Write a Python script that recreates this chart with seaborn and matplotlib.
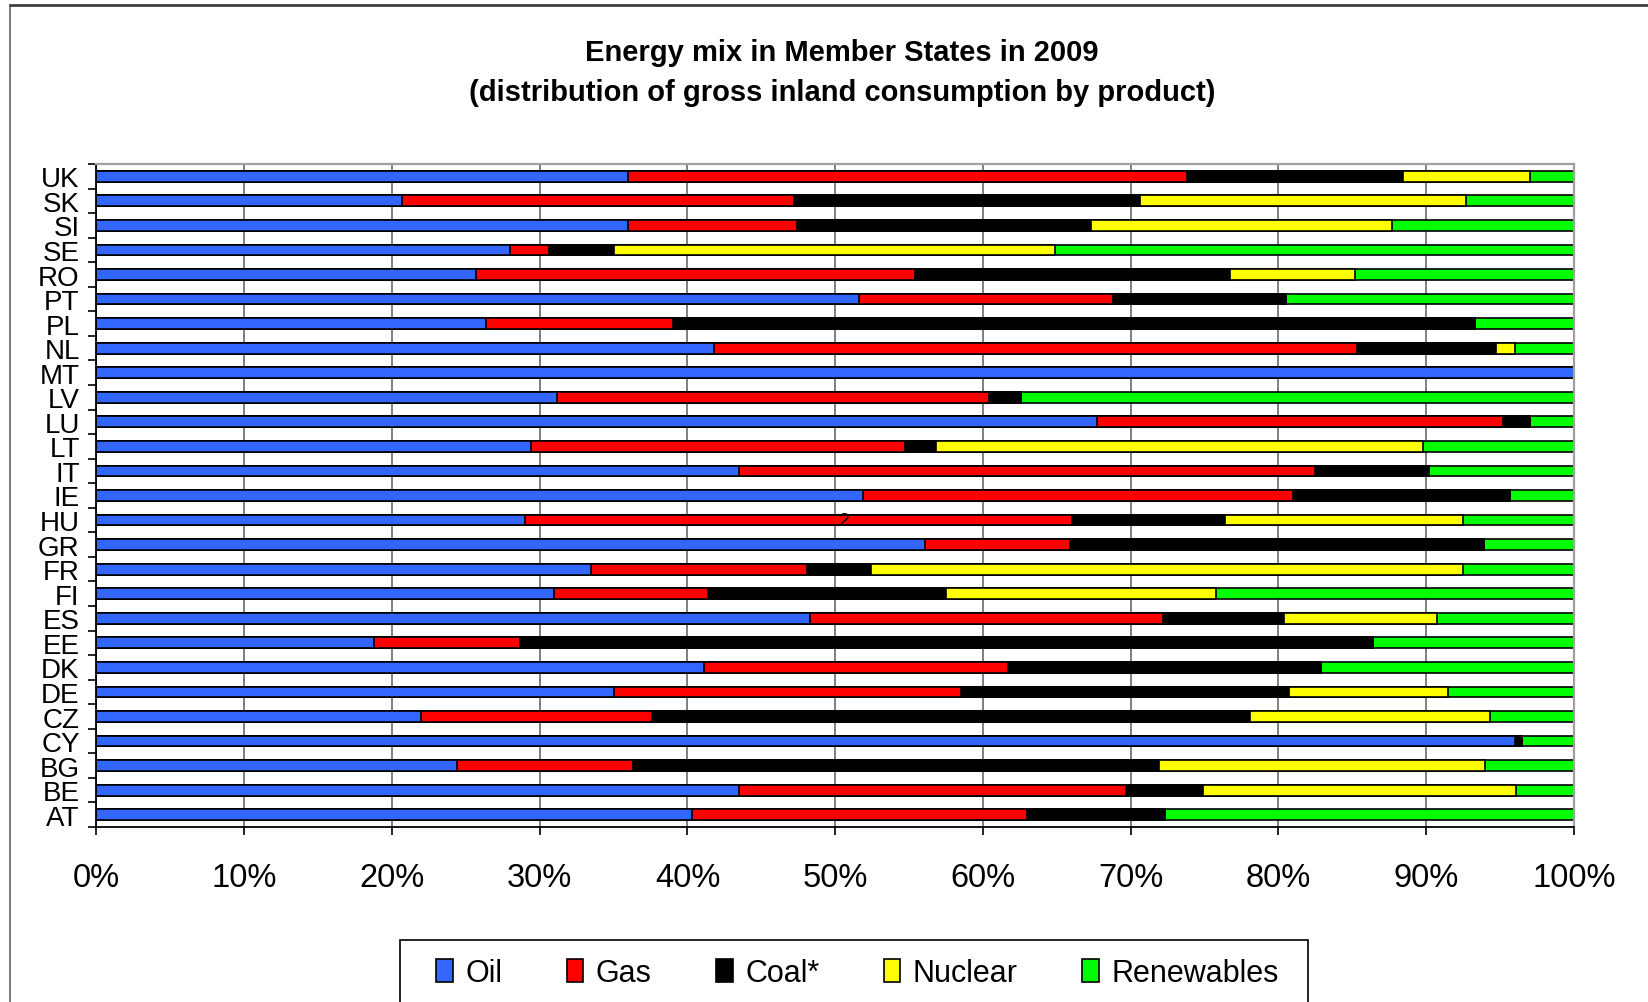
import numpy as np
import pandas as pd
import seaborn as sns
import matplotlib
matplotlib.use("Agg")
import matplotlib.pyplot as plt
from matplotlib.patches import Patch, Rectangle
from matplotlib.lines import Line2D

# Member States, listed top to bottom
countries = ["UK", "SK", "SI", "SE", "RO", "PT", "PL", "NL", "MT", "LV", "LU", "LT", "IT",
             "IE", "HU", "GR", "FR", "FI", "ES", "EE", "DK", "DE", "CZ", "CY", "BG", "BE", "AT"]

# Share of gross inland consumption by product (%)
oil        = [36.0, 20.7, 36.0, 28.0, 25.7, 51.6, 26.4, 41.8, 100.0, 31.2, 67.7, 29.4, 43.5,
              51.9, 29.0, 56.1, 33.5, 31.0, 48.3, 18.8, 41.1, 35.0, 22.0, 96.0, 24.4, 43.5, 40.3]
gas        = [37.8, 26.5, 11.4, 2.6, 29.7, 17.2, 12.6, 43.5, 0.0, 29.2, 27.5, 25.3, 39.0,
              29.1, 37.0, 9.8, 14.6, 10.4, 23.9, 9.9, 20.6, 23.5, 15.6, 0.0, 11.9, 26.2, 22.7]
coal       = [14.6, 23.4, 19.9, 4.4, 21.3, 11.7, 54.3, 9.4, 0.0, 2.2, 1.8, 2.1, 7.7,
              14.7, 10.4, 28.0, 4.3, 16.1, 8.2, 57.7, 21.2, 22.2, 40.5, 0.5, 35.6, 5.2, 9.3]
nuclear    = [8.6, 22.1, 20.4, 29.9, 8.5, 0.0, 0.0, 1.3, 0.0, 0.0, 0.0, 33.0, 0.0,
              0.0, 16.1, 0.0, 40.1, 18.3, 10.3, 0.0, 0.0, 10.8, 16.2, 0.0, 22.1, 21.2, 0.0]
renewables = [3.0, 7.3, 12.3, 35.1, 14.8, 19.5, 6.7, 4.0, 0.0, 37.4, 3.0, 10.2, 9.8,
              4.3, 7.5, 6.1, 7.5, 24.2, 9.3, 13.6, 17.1, 8.5, 5.7, 3.5, 6.0, 3.9, 27.7]

products = ["Oil", "Gas", "Coal*", "Nuclear", "Renewables"]
colors = ["#3366FF", "#FF0000", "#000000", "#FFFF00", "#00FF00"]

sns.set_style("white")
plt.rcParams["font.family"] = ["Liberation Sans", "DejaVu Sans"]
plt.rcParams["text.color"] = "black"
plt.rcParams["xtick.color"] = "black"
plt.rcParams["ytick.color"] = "black"
plt.rcParams["axes.labelcolor"] = "black"

df = pd.DataFrame({"country": countries, "Oil": oil, "Gas": gas, "Coal*": coal,
                   "Nuclear": nuclear, "Renewables": renewables})
cum = df[products].cumsum(axis=1)
cum["country"] = df["country"]

W, H = 1649, 1003
fig = plt.figure(figsize=(W / 100, H / 100), dpi=100)
ax = fig.add_axes([96.4 / W, 1 - 828 / H, (1574 - 96.4) / W, (828 - 165) / H])

# stacked bars: draw cumulative totals from the outermost layer inwards
for prod, col in reversed(list(zip(products, colors))):
    sns.barplot(data=cum, x=prod, y="country", order=countries, orient="h",
                color=col, saturation=1, width=0.44, edgecolor="black",
                linewidth=1.2, errorbar=None, ax=ax)

ax.set_xlim(0, 100)
ax.set_ylim(len(countries) - 0.5, -0.5)
ax.set_xlabel("")
ax.set_ylabel("")

ax.set_xticks(np.arange(0, 101, 10))
ax.set_xticklabels([f"{v}%" for v in range(0, 101, 10)], fontsize=23.5)
ax.set_yticks(np.arange(len(countries)))
ax.set_yticklabels(countries, fontsize=20)
ax.set_yticks(np.arange(-0.5, len(countries), 1), minor=True)

ax.tick_params(axis="x", which="major", direction="out", length=6, width=1.2,
               color="black", labelcolor="black", pad=19, bottom=True)
ax.tick_params(axis="y", which="major", length=0, pad=12, left=True, labelcolor="black")
ax.tick_params(axis="y", which="minor", direction="out", length=6, width=1.2,
               color="black", left=True)

ax.xaxis.grid(True, color="#6a6a6a", linewidth=1.2)
ax.yaxis.grid(False)
ax.set_axisbelow(True)

for side in ["left", "bottom"]:
    ax.spines[side].set_color("black")
    ax.spines[side].set_linewidth(1.3)
for side in ["top", "right"]:
    ax.spines[side].set_color("#a0a0a0")
    ax.spines[side].set_linewidth(1.6)
    ax.spines[side].set_visible(True)

ax.text(50.6, countries.index("HU"), "2", ha="center", va="center",
        fontsize=14, color="black", zorder=10)

# titles
fig.text(842 / W, 1 - 53 / H, "Energy mix in Member States in 2009",
         ha="center", va="center", fontsize=21, fontweight="bold", color="black")
fig.text(842 / W, 1 - 93 / H, "(distribution of gross inland consumption by product)",
         ha="center", va="center", fontsize=21, fontweight="bold", color="black")

# chart frame
fig.add_artist(Line2D([10.5 / W, 10.5 / W], [0, 1 - 6 / H], transform=fig.transFigure,
                      color="#7a7a7a", linewidth=1.4))
fig.add_artist(Line2D([10.5 / W, 1], [1 - 6 / H, 1 - 6 / H], transform=fig.transFigure,
                      color="#404040", linewidth=2))

# legend box and entries
fig.add_artist(Rectangle((399.6 / W, -0.05), (1308 - 399.6) / W, (1 - 941 / H) + 0.05,
                         transform=fig.transFigure, fill=False, edgecolor="black",
                         linewidth=1.2))
handles = [Patch(facecolor=c, edgecolor="black", linewidth=1.2) for c in colors]
fig.legend(handles, products, loc="center left", bbox_to_anchor=(436 / W, 1 - 974 / H),
           ncol=5, frameon=False, fontsize=22, handlelength=0.55, handleheight=0.75,
           handletextpad=0.41, columnspacing=2.1, borderpad=0, borderaxespad=0,
           labelcolor="black")

fig.savefig("out.png", dpi=100)
